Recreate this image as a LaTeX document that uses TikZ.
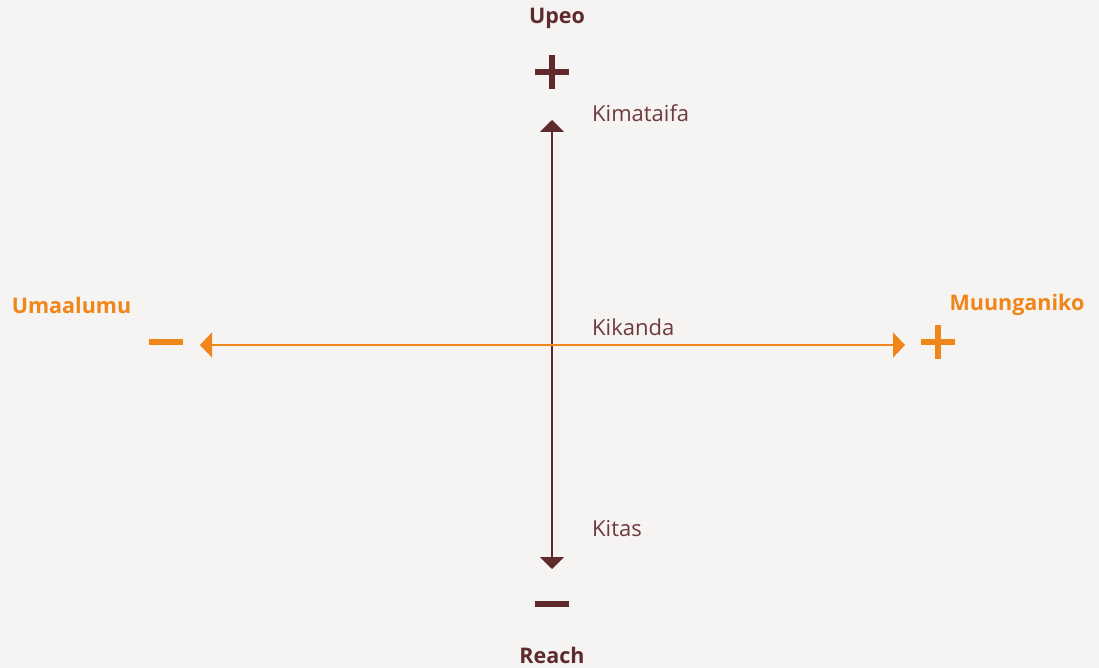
\documentclass[tikz,border=0pt]{standalone}
\usepackage{fontspec}
\setmainfont{Open Sans}
\usetikzlibrary{arrows.meta}
\definecolor{bg}{HTML}{F6F4F2}
\definecolor{maroon}{HTML}{5E2A2C}
\definecolor{maroonlt}{HTML}{6E3A3C}
\definecolor{orng}{HTML}{F08519}
\tikzset{
  axislbl/.style={font=\fontsize{21.5}{25}\selectfont\bfseries, inner sep=0pt},
  sublbl/.style={font=\fontsize{22}{26}\selectfont, text=maroonlt, anchor=west, inner sep=0pt},
  vaxis/.style={draw=maroon, line width=1.5pt, {Triangle[width=24pt,length=12pt]}-{Triangle[width=24pt,length=12pt]}},
  haxis/.style={draw=orng, line width=1.2pt, {Triangle[width=25pt,length=12pt]}-{Triangle[width=25pt,length=12pt]}},
}
\begin{document}
\begin{tikzpicture}[x=1pt,y=-1pt]
\fill[bg] (0,0) rectangle (1099,668);
\useasboundingbox (0,0) rectangle (1099,668);
% vertical axis
\coordinate (vt) at (552,120);
\coordinate (vb) at (552,569);
\draw[vaxis] (vb) -- (vt);
% horizontal axis
\coordinate (hl) at (200,345);
\coordinate (hr) at (905,345);
\draw[haxis] (hl) -- (hr);
% plus top
\fill[maroon] (535,69) rectangle (569,75);
\fill[maroon] (549,55) rectangle (555,89);
% minus bottom
\fill[maroon] (535,601) rectangle (569,607);
% minus left
\fill[orng] (149,339) rectangle (183,345);
% plus right
\fill[orng] (921,338.5) rectangle (955,344.5);
\fill[orng] (935,325) rectangle (941,359);
% labels
\node[axislbl, text=maroon] (upeo) at (557,18) {Upeo};
\node[axislbl, text=maroon] (reach) at (552,655) {Reach};
\node[axislbl, text=orng] (uma) at (71.5,305) {Umaalumu};
\node[axislbl, text=orng] (muu) at (1017,305) {Muunganiko};
\node[sublbl] (kim) at (592,113) {Kimataifa};
\node[sublbl] (kik) at (592,327) {Kikanda};
\node[sublbl] (kit) at (592,529) {Kitas};
\end{tikzpicture}
\end{document}
